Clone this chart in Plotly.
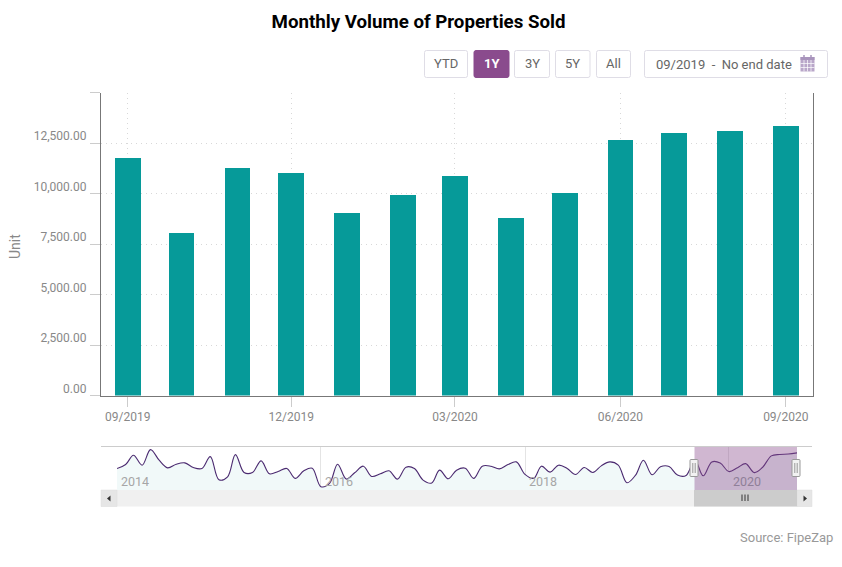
import pandas as pd
import plotly.graph_objects as go

W, H = 842, 567
BOTTOM = 29

# ---------- data ----------
bar_months = pd.date_range("2019-09-01", "2020-09-01", freq="MS")
bar_values = [11780, 8060, 11285, 11030, 9050, 9940, 10880, 8800, 10050, 12680, 13010, 13110, 13370]

history_values = [
    9755, 10675, 12823, 10522, 14127, 11673, 9909, 10752, 11059, 9985, 9755, 12516,
    7147, 7838, 12977, 8835, 8835, 11519, 8528, 9065, 9755, 7454, 9218, 9832,
    5537, 6304, 10752, 7301, 8758, 10292, 7914, 8528, 9218, 7301, 10062, 9755,
    7071, 6380, 9372, 7377, 9372, 9832, 7454, 10292, 10292, 9678, 10675, 11289,
    8375, 7454, 10292, 8911, 10522, 9755, 8375, 9985, 8835, 10369, 11289, 10522,
    6457, 8221, 11673, 8298, 10139, 10215, 8221, 8144,
]
nav_values = history_values + bar_values
nav_months = pd.date_range("2014-01-01", periods=len(nav_values), freq="MS")

y_ticks = [0, 2500, 5000, 7500, 10000, 12500, 15000]
y_tick_labels = ["0.00", "2,500.00", "5,000.00", "7,500.00", "10,000.00", "12,500.00", ""]
x_ticks = ["2019-09-01", "2019-12-01", "2020-03-01", "2020-06-01", "2020-09-01"]
x_tick_labels = ["09/2019", "12/2019", "03/2020", "06/2020", "09/2020"]
nav_years = ["2014", "2016", "2018", "2020"]
range_buttons = ["YTD", "1Y", "3Y", "5Y", "All"]

# ---------- style ----------
TEAL = "#069a99"
PURPLE = "#8a4b8d"
FONT = "Roboto"
TXT = "#888888"


def px(x):
    return x / W


def py(y):
    return 1 - y / (H - BOTTOM)


shapes = []
annotations = []


def rect(x0, y0, x1, y1, fill=None, line=None, lw=1, r=0):
    base = dict(xref="paper", yref="paper", layer="above",
                fillcolor=fill or "rgba(0,0,0,0)",
                line=dict(color=line or "rgba(0,0,0,0)", width=lw if line else 0))
    if r:
        p = (f"M{px(x0 + r)},{py(y0)} L{px(x1 - r)},{py(y0)} Q{px(x1)},{py(y0)} {px(x1)},{py(y0 + r)} "
             f"L{px(x1)},{py(y1 - r)} Q{px(x1)},{py(y1)} {px(x1 - r)},{py(y1)} "
             f"L{px(x0 + r)},{py(y1)} Q{px(x0)},{py(y1)} {px(x0)},{py(y1 - r)} "
             f"L{px(x0)},{py(y0 + r)} Q{px(x0)},{py(y0)} {px(x0 + r)},{py(y0)} Z")
        shapes.append(dict(type="path", path=p, **base))
    else:
        shapes.append(dict(type="rect", x0=px(x0), x1=px(x1), y0=py(y0), y1=py(y1), **base))


def seg(x0, y0, x1, y1, color, lw=1):
    shapes.append(dict(type="line", xref="paper", yref="paper", layer="above",
                       x0=px(x0), x1=px(x1), y0=py(y0), y1=py(y1),
                       line=dict(color=color, width=lw)))


def tri(pts, color):
    p = "M" + " L".join(f"{px(a)},{py(b)}" for a, b in pts) + " Z"
    shapes.append(dict(type="path", path=p, xref="paper", yref="paper", layer="above",
                       fillcolor=color, line=dict(width=0)))


def text(x, y, s, size=13, color="#666666", anchor="center", angle=0):
    annotations.append(dict(xref="paper", yref="paper", x=px(x), y=py(y), text=s, showarrow=False,
                            xanchor=anchor, yanchor="middle", textangle=angle,
                            font=dict(family=FONT, size=size, color=color)))


# range selector
btn_x = [(424.5, 467.5), (474, 509), (514.5, 549.5), (555.5, 590), (596.5, 630.5)]
for (x0, x1), name in zip(btn_x, range_buttons):
    active = name == "1Y"
    rect(x0, 50.5, x1, 77.5, fill=PURPLE if active else "#ffffff", line=PURPLE if active else "#dfdde6", r=2)
    text((x0 + x1) / 2, 63.5, f"<b>{name}</b>" if active else name, size=13,
         color="#ffffff" if active else "#666666")

# date box and calendar icon
rect(644.5, 50.5, 827.5, 77.5, fill="#ffffff", line="#dfdde6", r=2)
text(653.5, 64.5, "09/2019&nbsp;&nbsp;-&nbsp;&nbsp;No end date", size=13, anchor="left")
ICON = "#b9a6c9"
rect(800.5, 57, 814.5, 71.5, fill=ICON)
rect(800.5, 57, 814.5, 60, fill="#a994bc")
seg(804, 55, 804, 59, "#a994bc", 1.5)
seg(811, 55, 811, 59, "#a994bc", 1.5)
for gx in (804, 807.5, 811):
    seg(gx, 60, gx, 71.5, "#ffffff", 0.7)
for gy in (63.5, 67.5):
    seg(800.5, gy, 814.5, gy, "#ffffff", 0.7)

# navigator frame
seg(101, 446.5, 812, 446.5, "#cccccc", 1.2)
rect(694.5, 447, 797, 490, fill="rgba(138,75,141,0.40)")

# scrollbar
rect(101, 490, 812, 506.5, fill="#f0f0f0")
rect(101, 490, 117, 506.5, fill="#e6e6e6", line="#dddddd", lw=0.5)
rect(797, 490, 812, 506.5, fill="#e6e6e6", line="#dddddd", lw=0.5)
rect(694, 490, 797, 506.5, fill="#cccccc")
tri([(110.5, 495.5), (110.5, 501.5), (107, 498.5)], "#333333")
tri([(803.5, 495.5), (803.5, 501.5), (807, 498.5)], "#333333")
for sx in (742, 745, 748):
    seg(sx, 494.5, sx, 501, "#333333", 1)

# navigator handles
for cx in (694, 796):
    rect(cx - 4, 459.5, cx + 4, 476.5, fill="#f2f2f2", line="#999999", r=1)
    seg(cx - 1.2, 463, cx - 1.2, 473, "#999999", 1)
    seg(cx + 1.2, 463, cx + 1.2, 473, "#999999", 1)

# navigator year labels
for yr in nav_years:
    annotations.append(dict(xref="x2", yref="paper", x=f"{yr}-01-01", y=py(481.5), text=yr, showarrow=False,
                            xanchor="left", yanchor="middle", xshift=2,
                            font=dict(family=FONT, size=12.5,
                                      color="#8f7f98" if yr == "2020" else "#a6a6a6")))

text(834.5, 537.5, "Source: FipeZap", size=13, color="#999999", anchor="right")
text(15, 247, "Unit", size=14, color=TXT, angle=-90)

# ---------- figure ----------
fig = go.Figure()
fig.add_trace(go.Bar(x=bar_months, y=bar_values, width=14.3 * 86400000, marker=dict(color=TEAL, line=dict(width=0)),
                     xaxis="x", yaxis="y", showlegend=False))
fig.add_trace(go.Scatter(x=nav_months, y=nav_values, mode="lines", xaxis="x2", yaxis="y2", showlegend=False,
                         line=dict(color="#4b2a70", width=1.1, shape="spline", smoothing=1),
                         fill="tozeroy", fillcolor="#f1f9f9"))

fig.update_layout(
    width=W, height=H, autosize=False,
    margin=dict(l=0, r=0, t=0, b=BOTTOM),
    paper_bgcolor="#ffffff", plot_bgcolor="#ffffff",
    font=dict(family=FONT, color=TXT, size=12),
    title=dict(text="<b>Monthly Volume of Properties Sold</b>", x=418.5 / W, xanchor="center",
               y=1 - 21.5 / H, yanchor="middle", yref="container",
               font=dict(family=FONT, size=18.7, color="#000000")),
    bargap=0,
    xaxis=dict(domain=[px(101), px(812.5)], type="date",
               range=["2019-08-17 04:00", "2020-09-15 20:00"],
               tickmode="array", tickvals=x_ticks, ticktext=x_tick_labels,
               ticks="outside", ticklen=10, tickcolor="#cccccc", tickwidth=1,
               tickfont=dict(family=FONT, size=12, color=TXT),
               showgrid=True, griddash="1px,4px", gridcolor="#d8d8d8", gridwidth=1,
               showline=True, linecolor="#777777", linewidth=1.2, anchor="y", zeroline=False),
    yaxis=dict(domain=[py(395.6), py(92.8)], range=[0, 15000],
               tickmode="array", tickvals=y_ticks, ticktext=y_tick_labels,
               ticks="outside", ticklen=10, tickcolor="#cccccc", tickwidth=1,
               ticklabelshift=-7, ticklabelstandoff=1,
               tickfont=dict(family=FONT, size=12, color=TXT),
               showgrid=True, griddash="1px,4px", gridcolor="#d8d8d8", gridwidth=1,
               showline=True, mirror=True, linecolor="#777777", linewidth=1.2, zeroline=False),
    xaxis2=dict(domain=[px(117), px(797)], type="date", range=["2014-01-01", "2020-09-01"],
                anchor="y2", tickmode="array", tickvals=[f"{y}-01-01" for y in nav_years],
                ticktext=["" for _ in nav_years], ticks="",
                showgrid=True, gridcolor="#e4e4e4", gridwidth=1, showline=False, zeroline=False),
    yaxis2=dict(domain=[py(490), py(447)], range=[4770, 14740], anchor="x2",
                showticklabels=False, ticks="", showgrid=False, showline=False, zeroline=False),
    shapes=shapes,
    annotations=annotations,
)

fig.write_html("out.html", config=dict(displayModeBar=False),
               post_script="document.body.style.margin='0';")
